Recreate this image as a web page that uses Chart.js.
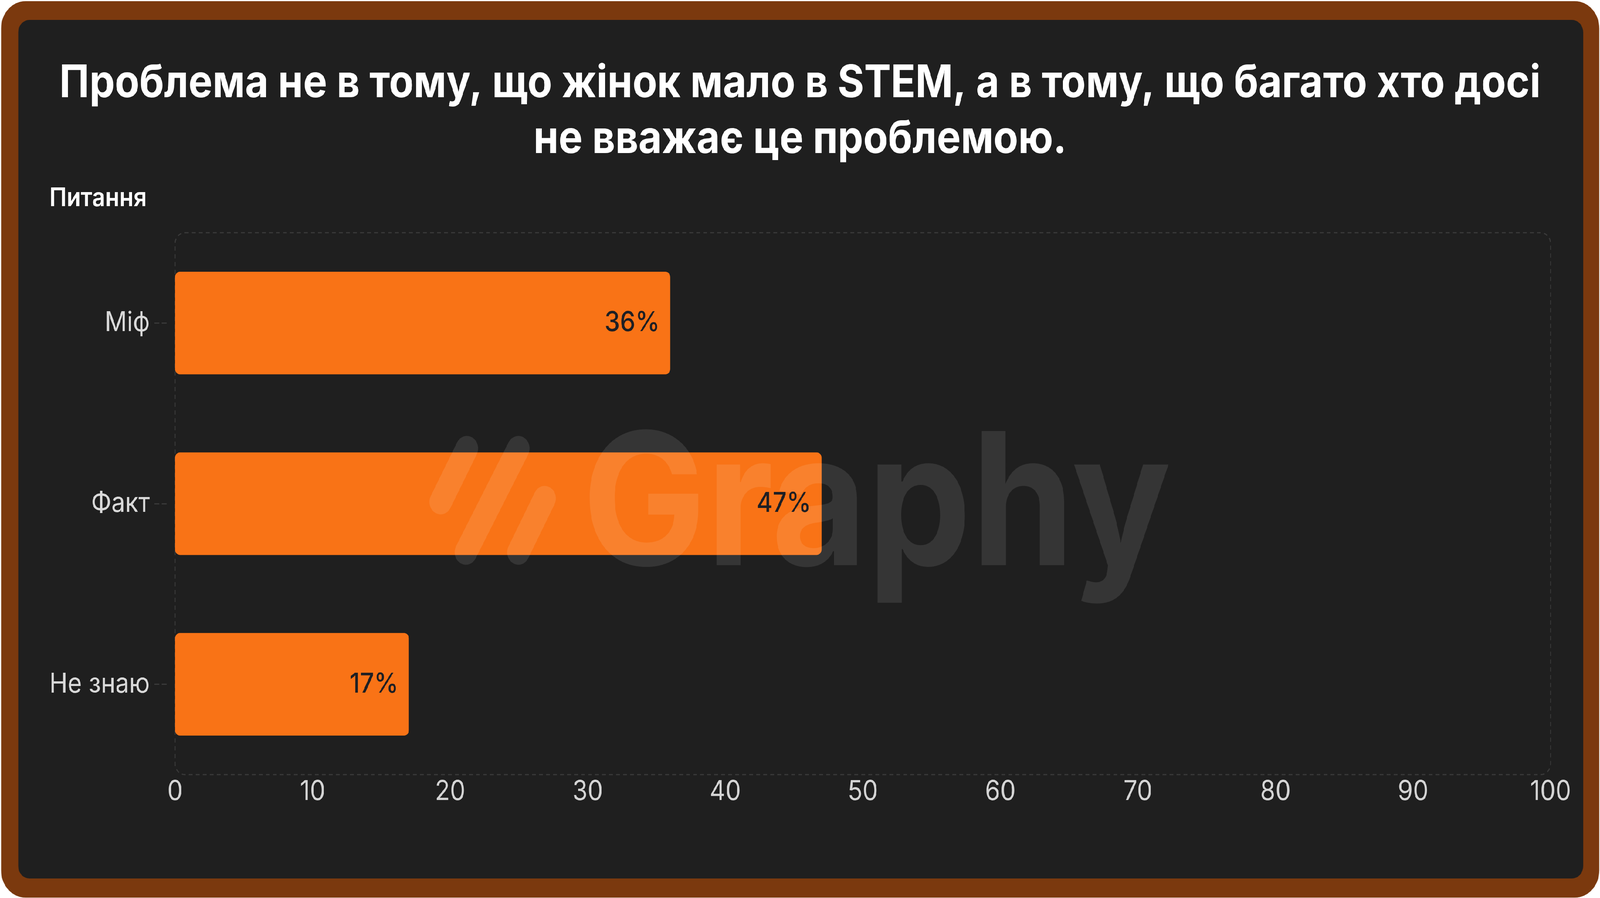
<!DOCTYPE html>
<html lang="uk">
<head>
<meta charset="utf-8">
<title>Проблема не в тому, що жінок мало в STEM</title>
<script src="https://cdn.jsdelivr.net/npm/chart.js@4.4.1/dist/chart.umd.min.js"></script>
<style>
  html, body { margin: 0; padding: 0; background: #ffffff; overflow: hidden; }
  #page { width: 4568px; height: 2300px; position: relative; transform-origin: 0 0; }
  .frame {
    position: absolute; left: 3px; top: 3px; right: 2px; bottom: 1px;
    background: #7b390e; border-radius: 70px;
  }
  .card {
    position: absolute; left: 52px; top: 51px; width: 4468px; height: 2199px;
    background: #1f1f1f; border-radius: 32px;
  }
  .card canvas { display: block; }
</style>
</head>
<body>
<div id="page">
  <div class="frame"></div>
  <div class="card"><canvas id="mythChart"></canvas></div>
</div>

<script>
// --- data ---
const titleLines = ['Проблема не в тому, що жінок мало в STEM, а в тому, що багато хто досі', 'не вважає це проблемою.'];
const axisLabel = 'Питання';
const categories = ['Міф', 'Факт', 'Не знаю'];
const shares = [36, 47, 17];
const xTicks = [0, 10, 20, 30, 40, 50, 60, 70, 80, 90, 100];

const ORANGE = '#f97316';
const GRID = '#3a3a3a';

// the page is laid out at 4568x2300; fit it to whatever the window really is
const page = document.getElementById('page');
page.style.transform = 'scale(' + (window.innerWidth / 4568) + ',' + (window.innerHeight / 2300) + ')';

// dashed rounded box round the plot area
const plotBox = {
  id: 'plotBox',
  beforeDatasetsDraw(chart) {
    const { ctx, chartArea: a } = chart;
    ctx.save();
    ctx.strokeStyle = GRID;
    ctx.lineWidth = 3;
    ctx.setLineDash([11, 9]);
    ctx.beginPath();
    ctx.roundRect(a.left, a.top, a.right - a.left, a.bottom - a.top, 28);
    ctx.stroke();
    ctx.restore();
  }
};

// Graphy watermark, then the value labels on top of the bars
const overlay = {
  id: 'overlay',
  afterDatasetsDraw(chart) {
    const { ctx, width, height } = chart;
    ctx.save();
    ctx.translate(width / 2, height / 2);
    ctx.fillStyle = 'rgba(255,255,255,0.1)';
    ctx.strokeStyle = 'rgba(255,255,255,0.1)';
    ctx.lineWidth = 64;
    ctx.lineCap = 'round';
    [[-953, -2, -1028, 135], [-806, -2, -956, 264], [-731, 126, -806, 264]].forEach(s => {
      ctx.beginPath();
      ctx.moveTo(s[0], s[1]);
      ctx.lineTo(s[2], s[3]);
      ctx.stroke();
    });
    ctx.font = '700 472px Inter';
    ctx.textBaseline = 'alphabetic';
    ctx.textAlign = 'left';
    ctx.fillText('Graphy', -624, 297);
    ctx.restore();

    const meta = chart.getDatasetMeta(0);
    ctx.save();
    ctx.font = '500 70px Inter';
    ctx.fillStyle = '#1e1f24';
    ctx.textAlign = 'right';
    ctx.textBaseline = 'middle';
    meta.data.forEach((bar, i) => {
      ctx.fillText(shares[i] + '%', bar.x - 30, bar.y);
    });
    ctx.restore();
  }
};

new Chart(document.getElementById('mythChart'), {
  type: 'bar',
  data: {
    labels: categories,
    datasets: [{
      data: shares,
      backgroundColor: ORANGE,
      borderRadius: 14,
      borderSkipped: false,
      categoryPercentage: 1,
      barPercentage: 0.568
    }]
  },
  options: {
    indexAxis: 'y',
    responsive: true,
    maintainAspectRatio: false,
    devicePixelRatio: 1,
    animation: false,
    layout: { padding: { left: 89, right: 93, top: 0, bottom: 178 } },
    plugins: {
      legend: { display: false },
      tooltip: { enabled: false },
      title: {
        display: true,
        text: titleLines,
        color: '#ffffff',
        font: { family: 'Inter', size: 115, weight: '700', lineHeight: 1.243 },
        padding: { top: 92, bottom: 20 }
      },
      subtitle: {
        display: true,
        text: axisLabel,
        align: 'start',
        color: '#ffffff',
        font: { family: 'Inter', size: 66, weight: '600', lineHeight: 1.2 },
        padding: { top: 20, bottom: 48 }
      }
    },
    scales: {
      x: {
        min: 0,
        max: 100,
        afterBuildTicks: axis => { axis.ticks = xTicks.map(v => ({ value: v })); },
        grid: { display: false, drawTicks: false },
        border: { display: false },
        ticks: {
          color: '#d4d4d4',
          padding: 2,
          font: { family: 'Inter', size: 70 }
        }
      },
      y: {
        afterFit: axis => { axis.width -= axis.options.ticks.padding; },
        grid: {
          offset: false,
          drawOnChartArea: false,
          drawTicks: true,
          tickLength: 59,
          tickWidth: 3,
          tickColor: GRID,
          tickBorderDash: [14, 7, 14, 100]
        },
        border: { display: false },
        ticks: {
          color: '#d9d9d9',
          padding: 13,
          font: { family: 'Inter', size: 70 }
        }
      }
    }
  },
  plugins: [plotBox, overlay]
});
</script>
</body>
</html>
